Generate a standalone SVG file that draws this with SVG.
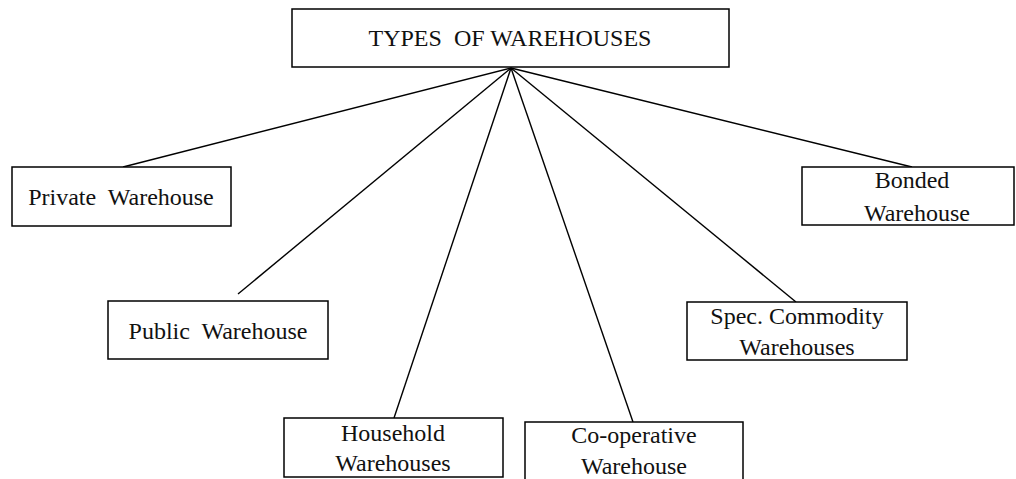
<svg xmlns="http://www.w3.org/2000/svg" width="1016" height="479" viewBox="0 0 1016 479">
<style>
.box{fill:#fff;stroke:#000;stroke-width:1.5}
.t{font-family:"Liberation Serif","Times New Roman",serif;font-size:24px;fill:#111;text-anchor:middle}
.c line{stroke:#000;stroke-width:1.4}
</style>
<rect width="1016" height="479" fill="#fff"/>
<g class="c" id="connectors">
<line x1="511" y1="68" x2="123" y2="167"/>
<line x1="511" y1="68" x2="238" y2="294"/>
<line x1="511" y1="68" x2="394" y2="418"/>
<line x1="511" y1="68" x2="633" y2="422"/>
<line x1="511" y1="68" x2="796" y2="302"/>
<line x1="511" y1="68" x2="912" y2="167"/>
</g>
<g id="root">
<rect class="box" x="292" y="9" width="437" height="58"/>
<text class="t" x="510" y="46" xml:space="preserve">TYPES  OF WAREHOUSES</text>
</g>
<g id="private">
<rect class="box" x="12" y="167" width="219" height="59"/>
<text class="t" x="121" y="205" xml:space="preserve">Private  Warehouse</text>
</g>
<g id="public">
<rect class="box" x="108" y="301" width="220" height="58"/>
<text class="t" x="218" y="339" xml:space="preserve">Public  Warehouse</text>
</g>
<g id="household">
<rect class="box" x="284" y="418" width="219" height="59"/>
<text class="t" x="393" y="441">Household</text>
<text class="t" x="393" y="471">Warehouses</text>
</g>
<g id="cooperative">
<rect class="box" x="525" y="422" width="218" height="70"/>
<text class="t" x="634" y="443">Co-operative</text>
<text class="t" x="634" y="474">Warehouse</text>
</g>
<g id="special">
<rect class="box" x="687" y="302" width="220" height="58"/>
<text class="t" x="797" y="324">Spec. Commodity</text>
<text class="t" x="797" y="355">Warehouses</text>
</g>
<g id="bonded">
<rect class="box" x="802" y="167" width="212" height="58"/>
<text class="t" x="912" y="188">Bonded</text>
<text class="t" x="917" y="221">Warehouse</text>
</g>
</svg>
